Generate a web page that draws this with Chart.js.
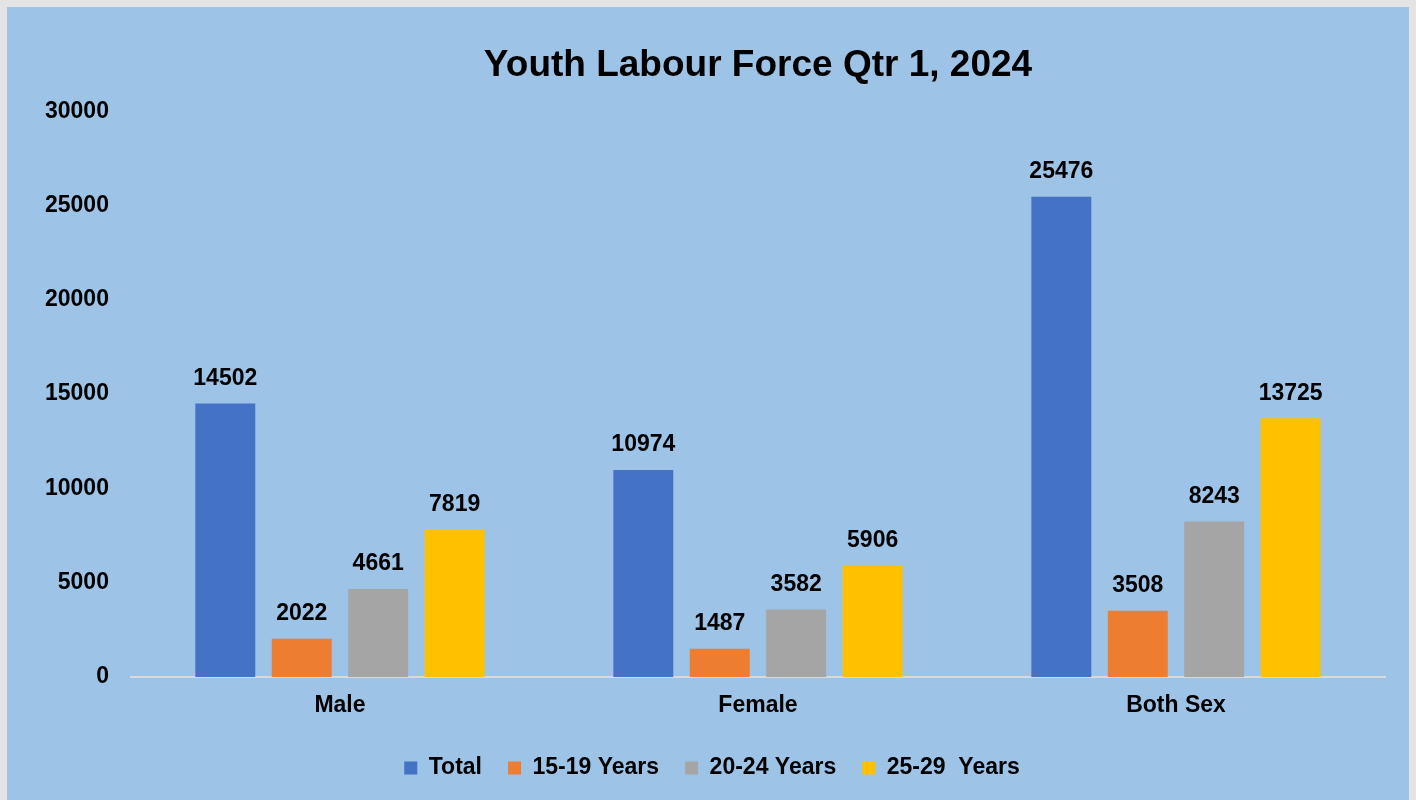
<!DOCTYPE html>
<html>
<head>
<meta charset="utf-8">
<script src="https://cdn.jsdelivr.net/npm/chart.js@4"></script>
<style>
  html, body { margin: 0; padding: 0; background: #e4e4e4; }
  #box { position: absolute; left: 7px; top: 7px; width: 1402px; height: 793px; background: #9DC3E6; }
  canvas { display: block; }
</style>
</head>
<body>
<div id="box"><canvas id="c" width="1402" height="793"></canvas></div>
<script>
const chartTitle = 'Youth Labour Force Qtr 1, 2024';
const categories = ['Male', 'Female', 'Both Sex'];
const seriesNames = ['Total', '15-19 Years', '20-24 Years', '25-29  Years'];
const totalValues = [14502, 10974, 25476];
const age1519Values = [2022, 1487, 3508];
const age2024Values = [4661, 3582, 8243];
const age2529Values = [7819, 5906, 13725];
const seriesColors = ['#4472C4', '#ED7D31', '#A5A5A5', '#FFC000'];
const yMin = 0, yMax = 30000, yStep = 5000;

const FONT = '"Liberation Sans", Arial, sans-serif';

const labelPlugin = {
  id: 'barLabels',
  afterDatasetsDraw(chart) {
    const ctx = chart.ctx;
    ctx.save();
    ctx.font = 'bold 23px ' + FONT;
    ctx.fillStyle = '#000';
    ctx.textAlign = 'center';
    ctx.textBaseline = 'middle';
    chart.data.datasets.forEach((ds, di) => {
      const meta = chart.getDatasetMeta(di);
      meta.data.forEach((bar, i) => {
        ctx.fillText(String(ds.data[i]), bar.x, bar.y - 25);
      });
    });
    ctx.restore();
  }
};

const allSeries = [totalValues, age1519Values, age2024Values, age2529Values];

new Chart(document.getElementById('c'), {
  type: 'bar',
  data: {
    labels: categories,
    datasets: allSeries.map((vals, i) => ({
      label: seriesNames[i],
      data: vals,
      backgroundColor: seriesColors[i],
      borderWidth: 0,
      categoryPercentage: 0.7315,
      barPercentage: 0.784
    }))
  },
  options: {
    responsive: false,
    animation: false,
    layout: { padding: { left: 32, right: 24, top: 0, bottom: 10.5 } },
    plugins: {
      title: {
        display: true,
        text: chartTitle,
        fullSize: false,
        color: '#000',
        font: { family: FONT, size: 37, weight: 'bold' },
        padding: { top: 37, bottom: 23 }
      },
      legend: {
        position: 'bottom',
        labels: {
          color: '#000',
          font: { family: FONT, size: 23, weight: 'bold' },
          boxWidth: 13,
          boxHeight: 13,
          padding: 26
        }
      },
      tooltip: { enabled: false }
    },
    scales: {
      x: {
        grid: { display: false, drawTicks: false },
        border: { display: true, color: '#D9D9D9', width: 2 },
        ticks: { color: '#000', font: { family: FONT, size: 23, weight: 'bold' }, padding: 15 },
        afterFit(scale) { scale.height -= 4; }
      },
      y: {
        min: yMin, max: yMax,
        grid: { display: false, drawTicks: false },
        border: { display: false },
        ticks: {
          stepSize: yStep, color: '#000',
          font: { family: FONT, size: 23, weight: 'bold' }, padding: 22,
          callback: (v) => String(v)
        },
        afterFit(scale) { scale.width -= 16; }
      }
    }
  },
  plugins: [labelPlugin]
});
</script>
</body>
</html>
